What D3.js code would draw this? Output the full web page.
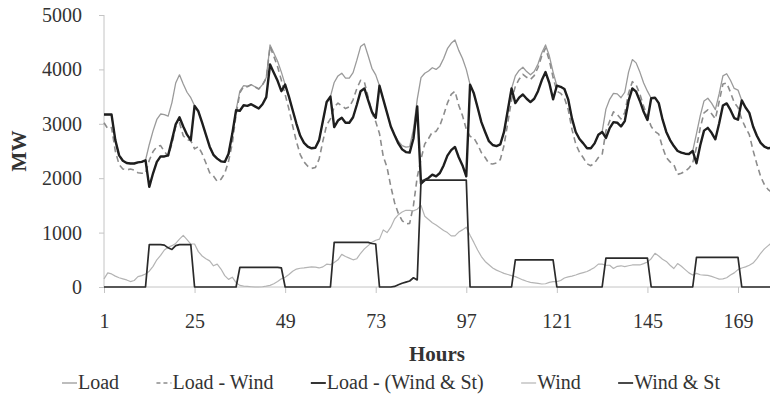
<!DOCTYPE html>
<html>
<head>
<meta charset="utf-8">
<script src="https://cdn.jsdelivr.net/npm/d3@7"></script>
<style>
  html, body { margin: 0; padding: 0; background: #fff; }
  svg { display: block; }
  svg text { font-family: "Liberation Serif", Tinos, "Times New Roman", Times, "Nimbus Roman", "DejaVu Serif", "Noto Serif", serif !important; fill: #333; }
</style>
</head>
<body>
<svg id="chart" width="770" height="406"></svg>
<script>
// Hourly series, hours 1..178
const hours = d3.range(1, 179);

const load = [
  3170,3170,3170,2700,2420,2320,2280,2270,2270,2290,2300,2330,
  2620,2870,3080,3180,3170,3140,3390,3750,3900,3730,3580,3480,
  3330,3230,3020,2800,2580,2430,2360,2310,2300,2450,2820,3250,
  3600,3700,3690,3720,3680,3640,3720,3850,4450,4300,4150,3950,
  3720,3500,3250,3000,2780,2650,2580,2550,2560,2700,3050,3400,
  3500,3760,3880,3930,3840,3840,3940,4170,4420,4470,4250,4020,
  3900,3700,3450,3200,2950,2800,2680,2600,2570,2580,2900,3450,
  3850,3930,3970,4030,4000,4060,4200,4380,4480,4540,4350,4200,
  4000,3720,3560,3300,3030,2850,2680,2610,2590,2620,2850,3250,
  3650,3880,3980,4040,3960,3900,3960,4100,4300,4450,4250,3950,
  3700,3680,3640,3450,3100,2850,2720,2640,2550,2550,2640,2800,
  2850,3270,3450,3560,3550,3480,3580,3950,4180,4120,3950,3750,
  3600,3470,3480,3380,3080,2850,2700,2590,2500,2470,2450,2445,
  2500,2820,3150,3420,3470,3380,3260,3550,3880,3920,3800,3650,
  3620,3430,3300,3200,2950,2780,2650,2580,2550,2560
];

const loadMinusWind = [
  3020,2910,2930,2500,2250,2170,2150,2170,2150,2100,2090,2090,
  2330,2490,2580,2600,2490,2410,2630,2950,3020,2780,2710,2690,
  2540,2580,2450,2280,2100,2040,1940,1980,2090,2310,2640,3170,
  3570,3685,3680,3715,3680,3640,3715,3835,4420,4240,4050,3800,
  3540,3270,2960,2670,2435,2300,2220,2180,2195,2350,2680,2980,
  3090,3310,3380,3330,3280,3310,3440,3650,3800,3770,3490,3200,
  3040,2820,2400,2200,1850,1550,1350,1220,1160,1170,1500,2020,
  2350,2630,2730,2850,2860,2970,3160,3380,3540,3600,3340,3150,
  2900,2770,2740,2620,2470,2380,2270,2260,2280,2340,2600,3020,
  3440,3690,3820,3910,3855,3815,3885,4035,4245,4390,4165,3850,
  3600,3560,3475,3265,2900,2630,2475,2375,2265,2230,2280,2380,
  2430,2870,3050,3220,3170,3090,3205,3560,3775,3715,3545,3320,
  3140,2950,2860,2810,2570,2380,2300,2250,2070,2090,2130,2185,
  2280,2570,2925,3200,3255,3185,3090,3405,3730,3750,3580,3390,
  3300,3080,2930,2800,2510,2260,2030,1880,1790,1740
];

const loadMinusWindSt = [
  3170,3170,3170,2700,2420,2320,2280,2270,2270,2290,2300,2330,
  1840,2090,2300,2400,2400,2420,2700,2990,3120,2950,2800,2700,
  3330,3230,3020,2800,2580,2430,2360,2310,2300,2450,2820,3250,
  3240,3340,3330,3360,3320,3280,3360,3490,4090,3940,3790,3600,
  3720,3500,3250,3000,2780,2650,2580,2550,2560,2700,3050,3400,
  3500,2940,3060,3110,3020,3020,3120,3350,3600,3650,3430,3220,
  3110,3700,3450,3200,2950,2790,2640,2530,2480,2470,2730,3320,
  1900,1965,2005,2065,2035,2095,2235,2415,2515,2575,2385,2235,
  2035,3720,3560,3300,3030,2850,2680,2610,2590,2620,2850,3250,
  3650,3380,3480,3540,3460,3400,3460,3600,3800,3950,3750,3450,
  3700,3680,3640,3450,3100,2850,2720,2640,2550,2550,2640,2800,
  2850,2740,2920,3030,3020,2950,3050,3420,3650,3590,3420,3220,
  3070,3470,3480,3380,3080,2850,2700,2590,2500,2470,2450,2445,
  2500,2275,2605,2875,2925,2835,2715,3005,3335,3375,3255,3105,
  3075,3430,3300,3200,2950,2780,2650,2580,2550,2560
];

const wind = [
  150,260,240,200,170,150,130,100,120,190,210,240,
  290,380,500,580,680,730,760,800,880,950,870,790,
  790,650,570,520,480,390,420,330,210,140,180,80,
  30,15,10,5,0,0,5,15,30,60,100,150,
  180,230,290,330,345,350,360,370,365,350,370,420,
  410,450,500,600,560,530,500,520,620,700,760,820,
  860,880,1050,1000,1100,1250,1330,1380,1410,1410,1400,1430,
  1500,1300,1240,1180,1140,1090,1040,1000,940,940,1010,1050,
  1100,950,820,680,560,470,410,350,310,280,250,230,
  210,190,160,130,105,85,75,65,55,60,85,100,
  100,120,165,185,200,220,245,265,285,320,360,420,
  420,400,400,340,380,390,375,390,405,405,405,430,
  460,520,620,570,510,470,400,340,430,380,320,260,
  220,250,225,220,215,195,170,145,150,170,220,260,
  320,350,370,400,440,520,620,700,760,820
];

const windSt = [
  0,0,0,0,0,0,0,0,0,0,0,0,
  780,780,780,780,770,720,690,760,780,780,780,780,
  0,0,0,0,0,0,0,0,0,0,0,0,
  360,360,360,360,360,360,360,360,360,360,360,350,
  0,0,0,0,0,0,0,0,0,0,0,0,
  0,820,820,820,820,820,820,820,820,820,820,800,
  790,0,0,0,0,10,40,70,90,110,170,130,
  1950,1965,1965,1965,1965,1965,1965,1965,1965,1965,1965,1965,
  1965,0,0,0,0,0,0,0,0,0,0,0,
  0,500,500,500,500,500,500,500,500,500,500,500,
  0,0,0,0,0,0,0,0,0,0,0,0,
  0,530,530,530,530,530,530,530,530,530,530,530,
  530,0,0,0,0,0,0,0,0,0,0,0,
  0,545,545,545,545,545,545,545,545,545,545,545,
  545,0,0,0,0,0,0,0,0,0
];

const xTicks = [1, 25, 49, 73, 97, 121, 145, 169];
const yTicks = [0, 1000, 2000, 3000, 4000, 5000];
const seriesNames = ["Load", "Load - Wind", "Load - (Wind & St)", "Wind", "Wind & St"];

const svg = d3.select("#chart");

const x = d3.scaleLinear().domain([1, 169]).range([104, 738]);
const y = d3.scaleLinear().domain([0, 5000]).range([287, 15]);

// axes
const axisColor = "#c4c4c4";
const yAxis = svg.append("g")
  .attr("transform", `translate(${x(1)},0)`)
  .call(d3.axisLeft(y).tickValues(yTicks).tickFormat(d3.format("d")).tickSize(5).tickPadding(17));
const xAxis = svg.append("g")
  .attr("transform", `translate(0,${y(0)})`)
  .call(d3.axisBottom(x).tickValues(xTicks).tickFormat(d3.format("d")).tickSize(6).tickPadding(21).tickSizeOuter(0));
[yAxis, xAxis].forEach(g => {
  g.attr("font-family", null);
  g.select(".domain").attr("stroke", axisColor).attr("stroke-width", 1);
  g.selectAll(".tick line").attr("stroke", axisColor);
  g.selectAll(".tick text").attr("font-size", 20).attr("fill", "#3a3a3a");
});
// x axis line runs across the full plot width
xAxis.select(".domain").attr("d", `M${x(1)},0H770`);
yAxis.select(".domain").attr("d", `M0,${y(0)}V${y(5000)}`);

// series
const styles = [
  { data: load,            color: "#9a9a9a", width: 1.3, dash: null },
  { data: loadMinusWind,   color: "#8c8c8c", width: 1.6, dash: "6,4" },
  { data: loadMinusWindSt, color: "#1e1e1e", width: 2.4, dash: null },
  { data: wind,            color: "#b4b4b4", width: 1.2, dash: null },
  { data: windSt,          color: "#2a2a2a", width: 1.7, dash: null }
];

const line = d3.line()
  .x((d, i) => x(hours[i]))
  .y(d => y(d));

svg.append("clipPath").attr("id", "plotclip")
  .append("rect").attr("x", 0).attr("y", 0).attr("width", 770).attr("height", 300);

const plot = svg.append("g").attr("clip-path", "url(#plotclip)");
styles.forEach(s => {
  plot.append("path")
    .attr("d", line(s.data))
    .attr("fill", "none")
    .attr("stroke", s.color)
    .attr("stroke-width", s.width)
    .attr("stroke-linejoin", "round")
    .attr("stroke-dasharray", s.dash);
});

// axis titles
svg.append("text")
  .attr("transform", `translate(26,${(y(0) + y(5000)) / 2}) rotate(-90)`)
  .attr("text-anchor", "middle")
  .attr("font-size", 21).attr("font-weight", "bold")
  .text("MW");
svg.append("text")
  .attr("x", (x(1) + 770) / 2).attr("y", 361)
  .attr("text-anchor", "middle")
  .attr("font-size", 21).attr("font-weight", "bold")
  .text("Hours");

// legend
const legend = svg.append("g").attr("transform", "translate(0,389)");
const items = seriesNames.map((name, i) => {
  const g = legend.append("g");
  g.append("line")
    .attr("x1", 0).attr("x2", 15).attr("y1", -6).attr("y2", -6)
    .attr("stroke", styles[i].color)
    .attr("stroke-width", Math.min(styles[i].width, 1.8))
    .attr("stroke-dasharray", styles[i].dash ? "4,3" : null);
  const t = g.append("text").attr("x", 16).attr("y", 0)
    .attr("font-size", 20).text(name);
  return { g, w: 16 + t.node().getComputedTextLength() };
});
const startX = 62, endX = 720;
const total = d3.sum(items, d => d.w);
const gap = (endX - startX - total) / (items.length - 1);
let cx = startX;
items.forEach(it => {
  it.g.attr("transform", `translate(${cx},0)`);
  cx += it.w + gap;
});
</script>
</body>
</html>
